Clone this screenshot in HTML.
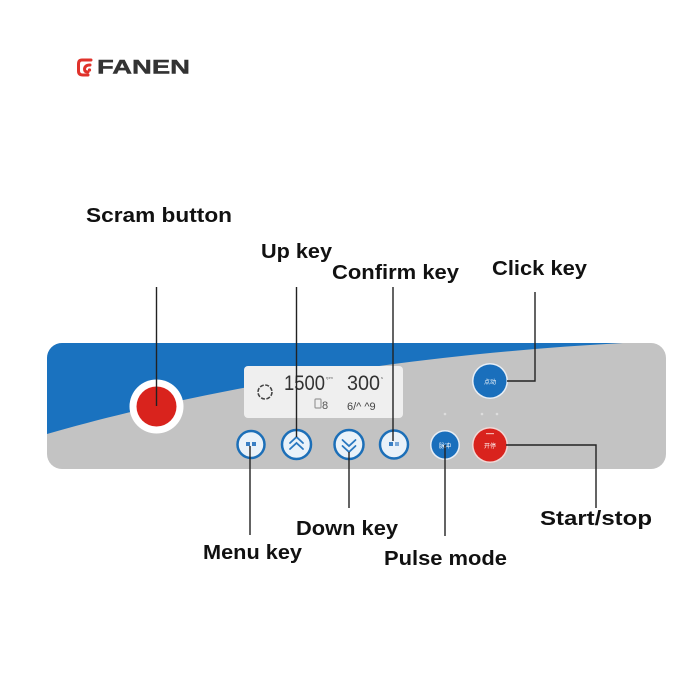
<!DOCTYPE html>
<html>
<head>
<meta charset="utf-8">
<style>
html,body{margin:0;padding:0;background:#fff;}
svg{display:block;}
text{font-family:"Liberation Sans","Noto Sans CJK SC",sans-serif;}
</style>
</head>
<body>
<svg width="700" height="700" viewBox="0 0 700 700" xmlns="http://www.w3.org/2000/svg">
  <rect width="700" height="700" fill="#fff"/>
  <defs>
    <clipPath id="panel">
      <rect x="47" y="343" width="619" height="126" rx="15" ry="15"/>
    </clipPath>
  </defs>

  <!-- Logo -->
  <g fill="none" stroke="#e0322b" stroke-width="3" stroke-linecap="round">
    <path d="M91,60 L82,60 Q78.5,60 78.5,64 L78.5,71 Q78.5,75 83,75 L88,75"/>
    <path d="M90,65 Q85,65 84.5,69 Q84.5,72 88,72"/>
  </g>
  <circle cx="89.5" cy="70" r="1.6" fill="#e0322b"/>
  <text x="97" y="73.5" font-size="19" font-weight="bold" fill="#333" stroke="#333" stroke-width="0.4" textLength="93" lengthAdjust="spacingAndGlyphs">FANEN</text>

  <!-- Panel -->
  <g clip-path="url(#panel)">
    <rect x="47" y="343" width="619" height="126" fill="#c3c3c3"/>
    <path d="M40,336 L630,336 L623,343 C400,355 200,390 47,434 L40,436 Z" fill="#1a72bf"/>
  </g>

  <!-- Scram button -->
  <circle cx="156.5" cy="406.5" r="27" fill="#fff"/>
  <circle cx="156.5" cy="406.5" r="20" fill="#d9231d"/>

  <!-- LCD -->
  <rect x="244" y="366" width="159" height="52" rx="4" fill="#efefef"/>
  <circle cx="265" cy="392" r="7" fill="none" stroke="#444" stroke-width="1.6" stroke-dasharray="4 1.5"/>
  <text x="284" y="390" font-size="21" fill="#333" textLength="41" lengthAdjust="spacingAndGlyphs" font-family="Liberation Sans Narrow, Liberation Sans, sans-serif">1500</text>
  <text x="326" y="379" font-size="4" fill="#666">rpm</text>
  <text x="347" y="390" font-size="21" fill="#333" textLength="33" lengthAdjust="spacingAndGlyphs" font-family="Liberation Sans Narrow, Liberation Sans, sans-serif">300</text>
  <text x="381" y="379" font-size="4" fill="#666">s</text>
  <rect x="315" y="399" width="6" height="9" rx="1" fill="none" stroke="#999" stroke-width="1.2"/>
  <text x="322" y="409" font-size="11" fill="#555" font-family="Liberation Mono">8</text>
  <text x="347" y="410" font-size="11" fill="#444" font-family="Liberation Mono">6/^ ^9</text>

  <!-- Small buttons -->
  <g stroke="#1c6fb8" stroke-width="2.5" fill="#eaf2f9">
    <circle cx="251" cy="444.5" r="13.5"/>
    <circle cx="296.5" cy="444.5" r="14.5"/>
    <circle cx="349" cy="444.5" r="14.5"/>
    <circle cx="394" cy="444.5" r="14"/>
  </g>
  <g fill="none" stroke="#2a78c0" stroke-width="1.8" stroke-linecap="round">
    <path d="M290,443 L296.5,437 L303,443"/>
    <path d="M290,449 L296.5,443 L303,449"/>
    <path d="M342.5,440 L349,446 L355.5,440"/>
    <path d="M342.5,446 L349,452 L355.5,446"/>
  </g>
  <rect x="246" y="442" width="4" height="4" fill="#3a7fc4"/>
  <rect x="252" y="442" width="4" height="4" fill="#3a7fc4"/>
  <rect x="389" y="442" width="4" height="4" fill="#3a7fc4"/>
  <rect x="395" y="442" width="4" height="4" fill="#7aa8d8"/>

  <!-- Right buttons -->
  <circle cx="490" cy="381" r="18" fill="#e8eef5"/>
  <circle cx="490" cy="381" r="16.5" fill="#1a6fbc"/>
  <text x="490" y="384" font-size="6" fill="#fff" text-anchor="middle">点动</text>
  <circle cx="445" cy="445" r="15" fill="#e8eef5"/>
  <circle cx="445" cy="445" r="13.5" fill="#1a6fbc"/>
  <text x="445" y="448" font-size="6" fill="#fff" text-anchor="middle">脉冲</text>
  <circle cx="490" cy="445" r="18" fill="#f0d8d6"/>
  <circle cx="490" cy="445" r="16.5" fill="#d9231d"/>
  <text x="490" y="448" font-size="6" fill="#fff" text-anchor="middle">开停</text>
  <rect x="486" y="433" width="8" height="1.2" fill="#f3b0aa"/>

  <!-- indicator dots -->
  <circle cx="445" cy="414" r="1.3" fill="#ddd"/>
  <circle cx="482" cy="414" r="1.3" fill="#ddd"/>
  <circle cx="497" cy="414" r="1.3" fill="#ddd"/>

  <!-- Leader lines -->
  <g fill="none" stroke="#222" stroke-width="1.4">
    <path d="M156.5,287 V406"/>
    <path d="M296.5,287 V437"/>
    <path d="M393,287 V441"/>
    <path d="M535,292 V381 H507"/>
    <path d="M250,446 V535"/>
    <path d="M349,452 V508"/>
    <path d="M445,445 V536"/>
    <path d="M506,445 H596 V508"/>
  </g>

  <!-- Labels -->
  <g font-size="20" font-weight="bold" fill="#111">
    <text x="86" y="222" textLength="146" lengthAdjust="spacingAndGlyphs">Scram button</text>
    <text x="261" y="258" textLength="71" lengthAdjust="spacingAndGlyphs">Up key</text>
    <text x="332" y="279" textLength="127" lengthAdjust="spacingAndGlyphs">Confirm key</text>
    <text x="492" y="275" textLength="95" lengthAdjust="spacingAndGlyphs">Click key</text>
    <text x="296" y="535" textLength="102" lengthAdjust="spacingAndGlyphs">Down key</text>
    <text x="203" y="559" textLength="99" lengthAdjust="spacingAndGlyphs">Menu key</text>
    <text x="384" y="565" textLength="123" lengthAdjust="spacingAndGlyphs">Pulse mode</text>
    <text x="540" y="525" textLength="112" lengthAdjust="spacingAndGlyphs">Start/stop</text>
  </g>
</svg>
</body>
</html>
